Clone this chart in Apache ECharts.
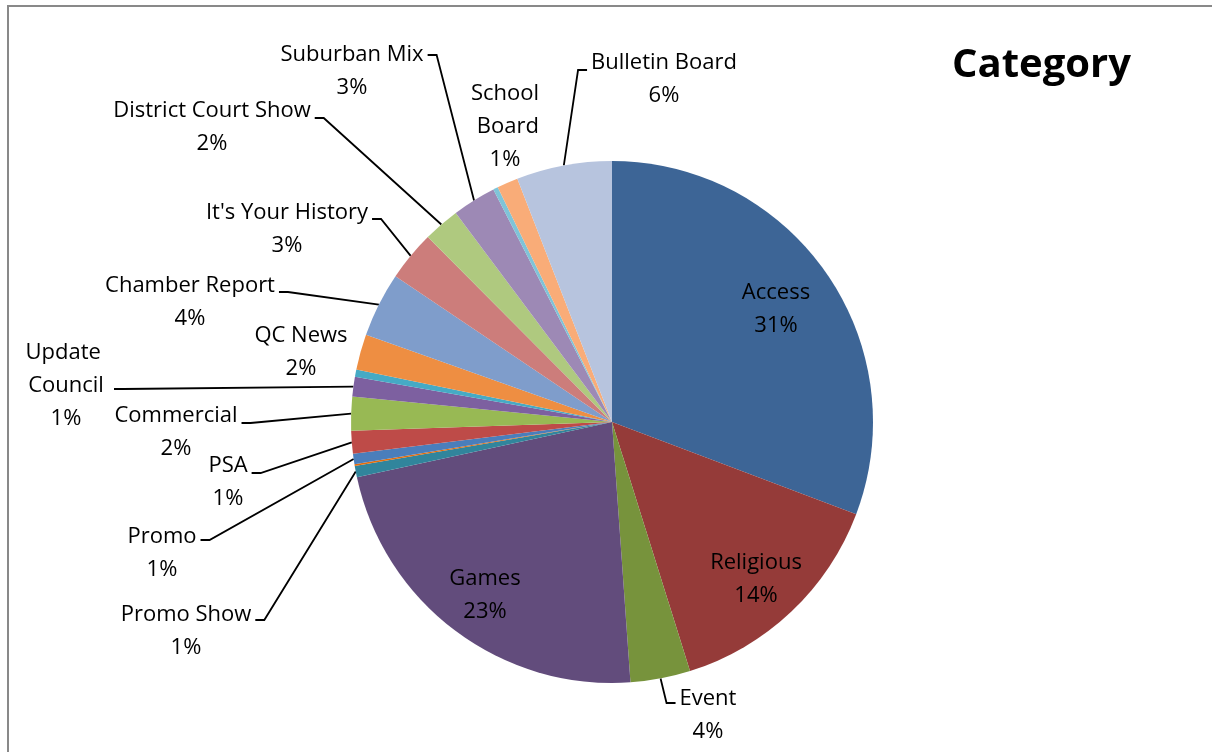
<!DOCTYPE html>
<html>
<head>
<meta charset="utf-8">
<script src="https://cdn.jsdelivr.net/npm/echarts@6/dist/echarts.min.js"></script>
<style>
  html, body { margin: 0; padding: 0; background: #fff; }
  #chart { width: 1212px; height: 752px; }
</style>
</head>
<body>
<div id="chart"></div>
<script>
// ---- data (in % of total) ----
const categories = [
  "Access", "Religious", "Event", "Games", "Promo Show", "", "Promo", "PSA",
  "Commercial", "Update Council", "", "QC News", "Chamber Report",
  "It's Your History", "District Court Show", "Suburban Mix", "", "School Board",
  "Bulletin Board"
];
const values = [
  30.7, 14.4, 3.7, 22.7, 0.7, 0.1, 0.65, 1.4,
  2.1, 1.2, 0.45, 2.2, 4.0,
  3.1, 2.25, 2.7, 0.3, 1.3,
  5.9
];
const colors = [
  "#3D6596", "#953B39", "#77933C", "#624C7C", "#31859C", "#E46C0A", "#4A7EBB", "#BE4B48",
  "#98B954", "#7D60A0", "#46AAC5", "#EE8E42", "#7F9DCB",
  "#CC7D7B", "#AFC97F", "#9D89B5", "#7FC4D8", "#F9AC78",
  "#B7C4DE"
];
const chartTitle = "Category";

// ---- label placement (label centre x, y; leader side; leader attach offset) ----
const labelPlaces = [
  [776, 309, null, 0],   // Access (inside)
  [756, 579, null, 0],   // Religious (inside)
  [708, 715, 'L', -12],  // Event
  [485, 595, null, 0],   // Games (inside)
  [186, 631, 'R', -11],  // Promo Show
  null,
  [162, 553, 'R', -13],  // Promo
  [228, 482, 'R', -9],   // PSA
  [176, 432, 'R', -9],   // Commercial
  [66, 386, 'R', 3],     // Update Council
  null,
  [301, 352, null, 0],   // QC News
  [190, 302, 'R', -10],  // Chamber Report
  [287, 229, 'R', -10],  // It's Your History
  [212, 127, 'R', -9],   // District Court Show
  [352, 71, 'R', -16],   // Suburban Mix
  null,
  [505, 127, null, 0],   // School Board
  [664, 79, 'L', -9]     // Bulletin Board
];
const wrapWidth = { "Update Council": 88, "School Board": 72 };

const data = categories.map(function (name, i) {
  const place = labelPlaces[i];
  const item = {
    name: name,
    value: values[i],
    itemStyle: { color: colors[i] }
  };
  if (!place) {
    item.label = { show: false };
    item.labelLine = { show: false };
  } else {
    if (!place[2]) item.labelLine = { show: false };
    if (wrapWidth[name]) item.label = { width: wrapWidth[name], overflow: 'break' };
  }
  return item;
});

const chart = echarts.init(document.getElementById('chart'), null, { renderer: 'canvas' });
chart.setOption({
  backgroundColor: '#ffffff',
  animation: false,
  title: {
    text: chartTitle,
    right: 76,
    top: 41,
    textStyle: {
      fontFamily: 'Open Sans',
      fontWeight: 'bold',
      fontSize: 40,
      color: '#000'
    }
  },
  graphic: [{
    type: 'rect',
    shape: { x: 8, y: 6, width: 1220, height: 760 },
    style: { fill: 'none', stroke: '#898989', lineWidth: 2 },
    silent: true,
    z: -10
  }],
  series: [{
    type: 'pie',
    center: [612, 422],
    radius: 261,
    startAngle: 90,
    clockwise: true,
    avoidLabelOverlap: false,
    itemStyle: { borderWidth: 0 },
    label: {
      show: true,
      position: 'outside',
      fontFamily: 'Open Sans',
      fontSize: 22,
      lineHeight: 33,
      color: '#000',
      align: 'center',
      formatter: function (p) {
        return p.name + '\n' + Math.round(p.percent) + '%';
      }
    },
    labelLine: {
      show: true,
      length: 20,
      length2: 10,
      smooth: false,
      lineStyle: { color: '#000', width: 1.8 }
    },
    labelLayout: function (p) {
      const L = labelPlaces[p.dataIndex];
      if (!L) return {};
      const out = { x: L[0], y: L[1], align: 'center', verticalAlign: 'middle' };
      if (L[2] && p.labelLinePoints) {
        const w = p.labelRect.width;
        const ay = L[1] + L[3];
        const s0 = p.labelLinePoints[0];
        let end, elbow;
        if (L[2] === 'R') {
          end = [L[0] + w / 2 + 4, ay];
          elbow = [end[0] + 9, ay];
        } else {
          end = [L[0] - w / 2 - 4, ay];
          elbow = [end[0] - 9, ay];
        }
        out.labelLinePoints = [s0, elbow, end];
      }
      return out;
    },
    data: data
  }]
});
</script>
</body>
</html>
